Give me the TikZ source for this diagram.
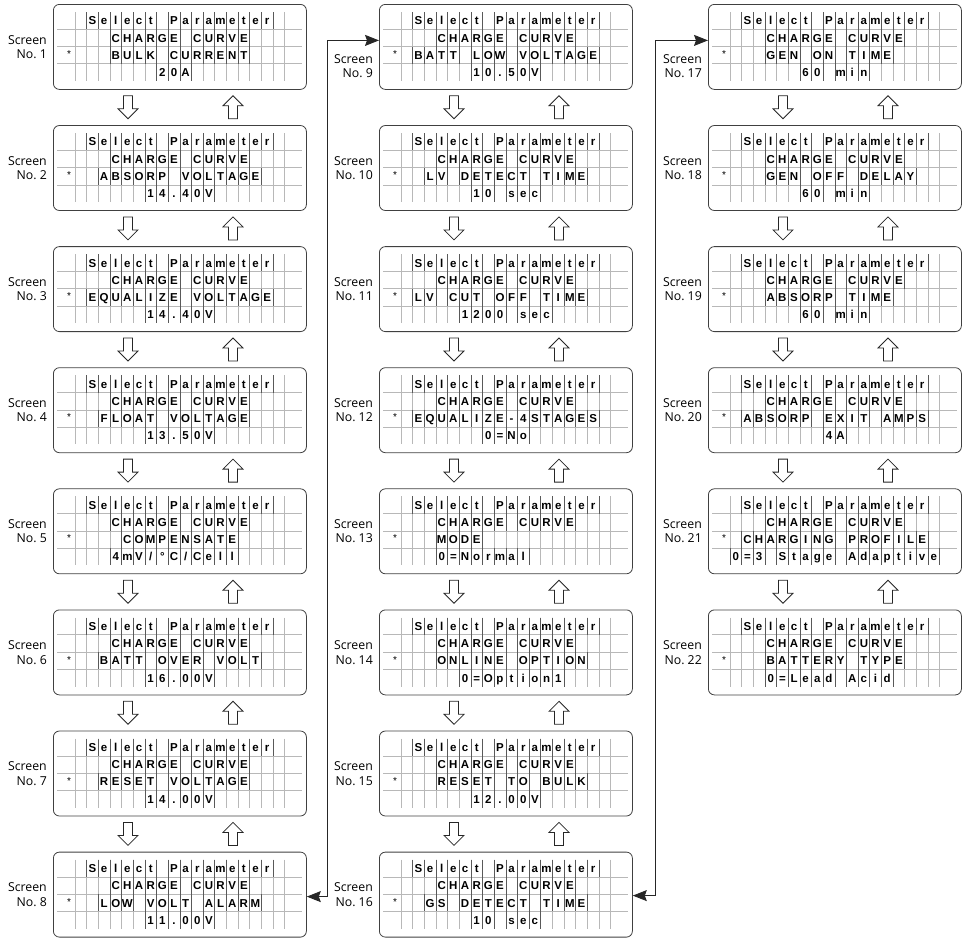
\documentclass[tikz,border=0pt]{standalone}
\usepackage{fontspec}
\setmainfont{Open Sans}
\newfontfamily\lcdfont{Liberation Sans}
\usepackage{tikz}
\usetikzlibrary{arrows.meta, positioning, calc}

\tikzset{
  screenbox/.style={draw=black!75, line width=0.8pt, rounded corners=6pt, minimum width=253pt, minimum height=85pt, inner sep=0pt, anchor=north west},
  lcdgrid/.style={draw=black!28, line width=0.6pt},
  lcdsep/.style={draw=black!65, line width=0.6pt},
  lcdchar/.style={font=\lcdfont\bfseries\fontsize{11.5}{11.5}\selectfont, anchor=base, inner sep=0pt},
  lcdstar/.style={font=\lcdfont\fontsize{10}{10}\selectfont, inner sep=0pt},
  screenlabel/.style={font=\fontsize{12.3}{14.5}\selectfont, align=right, anchor=east, inner sep=0pt},
  hollow/.style={draw=black!85, fill=white, line width=0.8pt},
  link/.style={draw=black!85, line width=0.9pt, {Stealth[length=14pt,width=11pt,inset=2pt]}-{Stealth[length=14pt,width=11pt,inset=2pt]}}
}

% one row of characters, one per cell
\newcommand{\lcdrow}[4]{%
  \foreach \ch [count=\k from #3] in {#4} {
    \node[lcdchar] at ([shift={({10.3+(\k-0.5)*11.65},{8+(#2-0.5)*17.25+4.2})}]#1.north west) {\ch};
    \ifx\ch\empty\else
      \draw[lcdsep] ([shift={({10.3+(\k-1)*11.65},{8+(#2-1)*17.25})}]#1.north west) -- ++(0,17.25)
        ([shift={({10.3+\k*11.65},{8+(#2-1)*17.25})}]#1.north west) -- ++(0,17.25);
    \fi
  }%
}

% name, x, y, number, row 3 start, row 3, row 4 start, row 4, label shift
\newcommand{\lcdscreen}[9]{%
  \node[screenbox] (#1) at (#2,#3) {};
  \foreach \k in {1,...,19}
    \draw[lcdgrid] ([shift={({10.3+\k*11.65},8)}]#1.north west) -- ++(0,69);
  \foreach \r in {1,2,3}
    \draw[lcdgrid] ([shift={(4,{8+\r*17.25})}]#1.north west) -- ++(245,0);
  \node[lcdstar] at ([shift={({10.3+0.5*11.65},{8+2.5*17.25-1})}]#1.north west) {*};
  \lcdrow{#1}{1}{3}{S,e,l,e,c,t,,P,a,r,a,m,e,t,e,r}
  \lcdrow{#1}{2}{5}{C,H,A,R,G,E,,C,U,R,V,E}
  \lcdrow{#1}{3}{#5}{#6}
  \lcdrow{#1}{4}{#7}{#8}
  \node[screenlabel] at ([xshift=-6pt,yshift=#9]#1.west) {Screen\\No.~#4};
}

% down and up arrows under a screen
\newcommand{\flowarrows}[1]{%
  \draw[hollow] ([shift={(75,6)}]#1.south west) ++(-4.5,0) -- ++(9,0) -- ++(0,13) -- ++(5.5,0) -- ++(-10,10) -- ++(-10,-10) -- ++(5.5,0) -- cycle;
  \draw[hollow] ([shift={(180,6)}]#1.south west) -- ++(10,10) -- ++(-5.5,0) -- ++(0,13) -- ++(-9,0) -- ++(0,-13) -- ++(-5.5,0) -- cycle;
}

\begin{document}
\begin{tikzpicture}[x=1pt, y=-1pt]
    \useasboundingbox (0,0) rectangle (964,938);

    % First column
    \lcdscreen{s1}{53}{4}{1}{5}{B,U,L,K,,C,U,R,R,E,N,T}{9}{2,0,A}{0pt}
    \lcdscreen{s2}{53}{125.1}{2}{4}{A,B,S,O,R,P,,V,O,L,T,A,G,E}{8}{1,4,.,4,0,V}{0pt}
    \lcdscreen{s3}{53}{246.2}{3}{3}{E,Q,U,A,L,I,Z,E,,V,O,L,T,A,G,E}{8}{1,4,.,4,0,V}{0pt}
    \lcdscreen{s4}{53}{367.3}{4}{4}{F,L,O,A,T,,V,O,L,T,A,G,E}{8}{1,3,.,5,0,V}{0pt}
    \lcdscreen{s5}{53}{488.4}{5}{6}{C,O,M,P,E,N,S,A,T,E}{5}{4,m,V,{/},°,C,{/},C,e,l,l}{0pt}
    \lcdscreen{s6}{53}{609.5}{6}{4}{B,A,T,T,,O,V,E,R,,V,O,L,T}{8}{1,6,.,0,0,V}{0pt}
    \lcdscreen{s7}{53}{730.6}{7}{4}{R,E,S,E,T,,V,O,L,T,A,G,E}{8}{1,4,.,0,0,V}{0pt}
    \lcdscreen{s8}{53}{851.7}{8}{4}{L,O,W,,V,O,L,T,,A,L,A,R,M}{8}{1,1,.,0,0,V}{0pt}

    % Second column
    \lcdscreen{s9}{379}{4}{9}{3}{B,A,T,T,,L,O,W,,V,O,L,T,A,G,E}{8}{1,0,.,5,0,V}{-19pt}
    \lcdscreen{s10}{379}{125.1}{10}{4}{L,V,,D,E,T,E,C,T,,T,I,M,E}{8}{1,0,,s,e,c}{0pt}
    \lcdscreen{s11}{379}{246.2}{11}{3}{L,V,,C,U,T,,O,F,F,,T,I,M,E}{7}{1,2,0,0,,s,e,c}{0pt}
    \lcdscreen{s12}{379}{367.3}{12}{3}{E,Q,U,A,L,I,Z,E,-,4,S,T,A,G,E,S}{9}{0,=,N,o}{0pt}
    \lcdscreen{s13}{379}{488.4}{13}{5}{M,O,D,E}{5}{0,=,N,o,r,m,a,l}{0pt}
    \lcdscreen{s14}{379}{609.5}{14}{5}{O,N,L,I,N,E,,O,P,T,I,O,N}{7}{0,=,O,p,t,i,o,n,1}{0pt}
    \lcdscreen{s15}{379}{730.6}{15}{5}{R,E,S,E,T,,T,O,,B,U,L,K}{8}{1,2,.,0,0,V}{0pt}
    \lcdscreen{s16}{379}{851.7}{16}{4}{G,S,,D,E,T,E,C,T,,T,I,M,E}{8}{1,0,,s,e,c}{0pt}

    % Third column
    \lcdscreen{s17}{708}{4}{17}{5}{G,E,N,,O,N,,T,I,M,E}{8}{6,0,,m,i,n}{-19pt}
    \lcdscreen{s18}{708}{125.1}{18}{5}{G,E,N,,O,F,F,,D,E,L,A,Y}{8}{6,0,,m,i,n}{0pt}
    \lcdscreen{s19}{708}{246.2}{19}{5}{A,B,S,O,R,P,,T,I,M,E}{8}{6,0,,m,i,n}{0pt}
    \lcdscreen{s20}{708}{367.3}{20}{3}{A,B,S,O,R,P,,E,X,I,T,,A,M,P,S}{10}{4,A}{0pt}
    \lcdscreen{s21}{708}{488.4}{21}{3}{C,H,A,R,G,I,N,G,,P,R,O,F,I,L,E}{2}{0,=,3,,S,t,a,g,e,,A,d,a,p,t,i,v,e}{0pt}
    \lcdscreen{s22}{708}{609.5}{22}{5}{B,A,T,T,E,R,Y,,T,Y,P,E}{5}{0,=,L,e,a,d,,A,c,i,d}{0pt}

    % Arrows between screens
    \foreach \s in {s1,s2,s3,s4,s5,s6,s7,s9,s10,s11,s12,s13,s14,s15,s17,s18,s19,s20,s21}
      {\flowarrows{\s}}

    % Links between columns
    \draw[link] ([yshift=-2pt]s8.east) -- ++(21,0) |- ([yshift=6.5pt]s9.west);
    \draw[link] ([yshift=-1pt]s16.east) -- ++(23,0) |- ([yshift=6.5pt]s17.west);
\end{tikzpicture}
\end{document}
